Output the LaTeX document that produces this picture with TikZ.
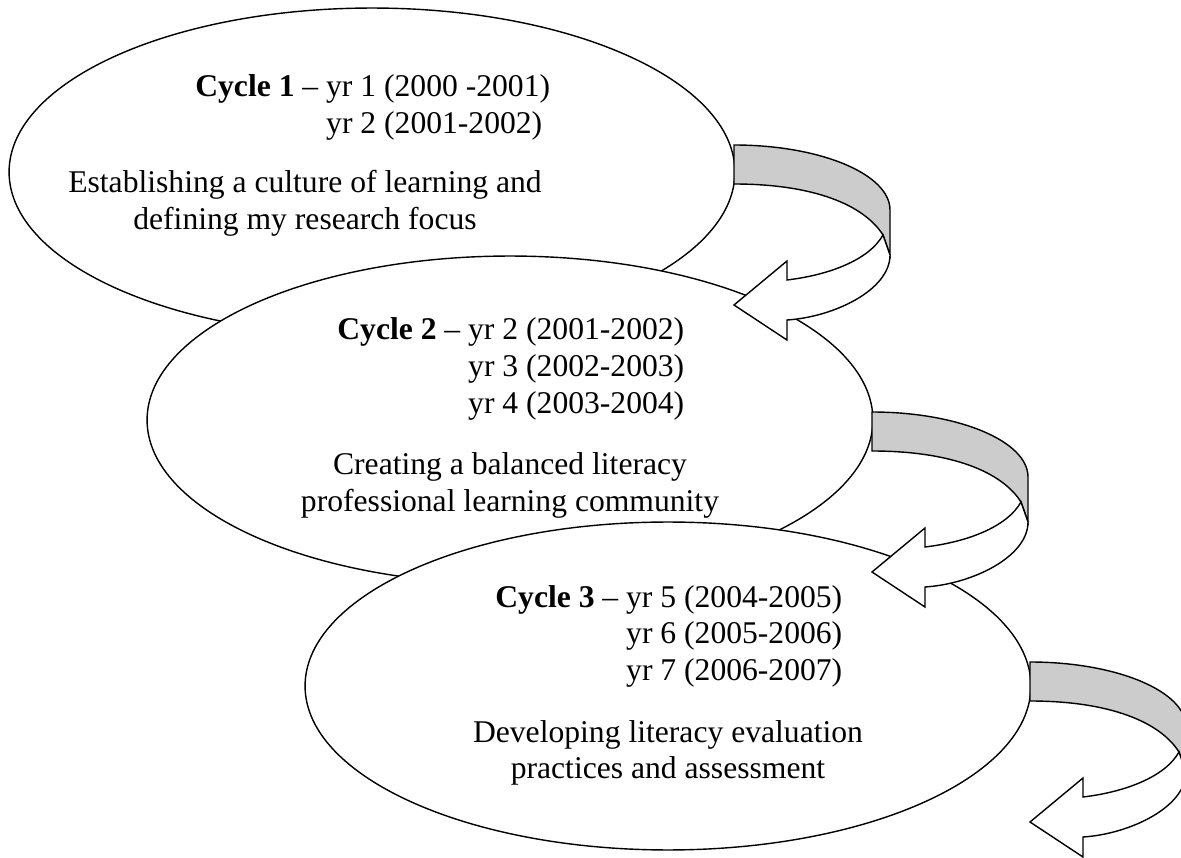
\documentclass[tikz,border=0pt]{standalone}
\usepackage{fontspec}
\setmainfont{Liberation Serif}
\usetikzlibrary{shapes.geometric}
\definecolor{Ink}{HTML}{000000}
\definecolor{Band}{HTML}{CCCCCC}
\tikzset{
  cycleoval/.style={ellipse,draw=Ink,fill=white,line width=0.8pt,inner sep=0pt,minimum width=14.52cm,minimum height=6.56cm},
  yeartext/.style={inner sep=0pt,anchor=base west,font=\fontsize{18}{20.8}\selectfont},
  desctext/.style={inner sep=0pt,anchor=base,font=\fontsize{18}{20.8}\selectfont},
  band/.style={draw=Ink,fill=Band,line width=0.8pt,line join=miter},
  backband/.style={draw=Ink,fill=white,line width=0.8pt,line join=miter},
  pics/turnarrow/.style={code={
    \path[band] (0,0) .. controls (86,0) and (156,29) .. (156,65) -- (156,110)
      -- (149,90) .. controls (130,60) and (80,39) .. (0,39) -- cycle;
    \path[backband] (156,110) .. controls (156,145) and (100,172) .. (53,175)
      -- (53,195) -- (0,160) -- (53,116) -- (53,135)
      .. controls (95,130) and (135,115) .. (149,90) -- cycle;
  }}
}
\begin{document}
\begin{tikzpicture}[x=0.02cm,y=-0.02cm]
  \clip (0,0) rectangle (1181,858);
  % the three cycles
  \node[cycleoval] (cyc1) at (372,172) {};
  \node[cycleoval] (cyc2) at (510,420) {};
  \node[cycleoval] (cyc3) at (668,686) {};
  % turning arrows between cycles
  \pic at (734,145) {turnarrow};
  \pic at (872,412) {turnarrow};
  \pic at (1030,662) {turnarrow};
  % texts
  \node[yeartext] (yrs1) at (195,97) {\begin{tabular}[t]{@{}l@{}}
    \textbf{Cycle 1} – yr 1 (2000 -2001)\\
    \hphantom{\textbf{Cycle 1} – }yr 2 (2001-2002)\end{tabular}};
  \node[desctext] (desc1) at (305,193) {\begin{tabular}[t]{@{}c@{}}
    Establishing a culture of learning and\\ defining my research focus\end{tabular}};
  \node[yeartext] (yrs2) at (337,340) {\begin{tabular}[t]{@{}l@{}}
    \textbf{Cycle 2} – yr 2 (2001-2002)\\
    \hphantom{\textbf{Cycle 2} – }yr 3 (2002-2003)\\
    \hphantom{\textbf{Cycle 2} – }yr 4 (2003-2004)\end{tabular}};
  \node[desctext] (desc2) at (510,475) {\begin{tabular}[t]{@{}c@{}}
    Creating a balanced literacy\\ professional learning community\end{tabular}};
  \node[yeartext] (yrs3) at (495,607) {\begin{tabular}[t]{@{}l@{}}
    \textbf{Cycle 3} – yr 5 (2004-2005)\\
    \hphantom{\textbf{Cycle 3} – }yr 6 (2005-2006)\\
    \hphantom{\textbf{Cycle 3} – }yr 7 (2006-2007)\end{tabular}};
  \node[desctext] (desc3) at (668,742) {\begin{tabular}[t]{@{}c@{}}
    Developing literacy evaluation\\ practices and assessment\end{tabular}};
\end{tikzpicture}
\end{document}
